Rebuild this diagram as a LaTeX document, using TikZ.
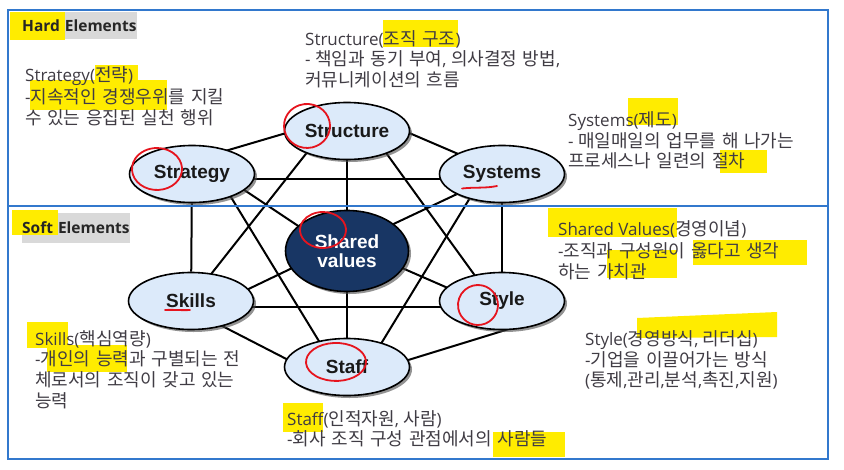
\documentclass[tikz,border=0pt]{standalone}
\usepackage{fontspec}
\setmainfont{Open Sans}
\newfontfamily\krfont{Noto Sans CJK KR}[WordSpace=1.4,Scale=1.06]
\newfontfamily\lblfont{Liberation Sans}
\usetikzlibrary{shapes.geometric,shadows,calc}
\newcommand{\kr}[1]{{\krfont #1}}
\definecolor{frameblue}{RGB}{50,120,205}
\definecolor{hlyellow}{RGB}{255,236,0}
\definecolor{tagGray}{RGB}{217,217,217}
\definecolor{nodeblue}{RGB}{220,234,250}
\definecolor{sharedblue}{RGB}{24,54,100}
\definecolor{txtgray}{RGB}{64,60,68}
\definecolor{penred}{RGB}{230,20,30}
\pgfdeclarelayer{bg}
\pgfsetlayers{bg,main}
\begin{document}
\begin{tikzpicture}[x=1pt,y=-1pt,
  frame/.style={draw=frameblue,line width=2pt},
  hl/.style={fill=hlyellow},
  tag/.style={fill=tagGray},
  desc/.style={anchor=base west,inner sep=0pt,text=txtgray,font=\fontsize{17}{21}\selectfont},
  head/.style={anchor=base west,inner sep=0pt,text=black!85,font=\bfseries\fontsize{15.5}{18}\selectfont},
  elem/.style={ellipse,draw=black,line width=1.6pt,fill=nodeblue,minimum width=125pt,minimum height=57pt,inner sep=0pt,text=black!90,font=\lblfont\bfseries\fontsize{19}{19}\selectfont,drop shadow={shadow xshift=2.5pt,shadow yshift=-2.5pt,fill=black!70,opacity=0.6}},
  core/.style={elem,fill=sharedblue,text=white,minimum width=123pt,minimum height=81pt,align=center},
  link/.style={line width=2pt,black},
  pen/.style={draw=penred,line width=1.8pt,line cap=round,line join=round}
]
\begin{pgfonlayer}{bg}
\fill[white] (0,0) rectangle (844,469);
\end{pgfonlayer}
\useasboundingbox (0,0) rectangle (844,469);

% label tags and highlights
\fill[tag] (10,12) rectangle (137,39);
\fill[hl] (10,12) rectangle (65,40);
\fill[tag] (22,213) rectangle (130,243);
\fill[hl] (12,210) rectangle (58,235);
\fill[hl] (95,65) rectangle (138,82);
\fill[hl] (30,80) rectangle (167,110);
\fill[hl] (383,20) rectangle (458,47);
\fill[hl] (628,98) rectangle (678,125);
\fill[hl] (720,150) rectangle (767,173);
\fill[hl] (548,208) rectangle (677,237);
\fill[hl] (607,250) rectangle (677,278);
\fill[hl] (693,240) rectangle (807,265);
\fill[hl] (27,322) rectangle (68,348);
\fill[hl] (47,345) rectangle (127,372);
\fill[hl] (283,403) rectangle (323,432);
\fill[hl] (493,432) rectangle (565,457);
\fill[hl] (637,318) -- (777,312) -- (777,337) -- (637,338) -- cycle;

% frames
\draw[frame] (8,10) rectangle (828,459);
\draw[frame] (8,206) -- (828,206);

% headings
\node[head] (hardlbl) at (22,31) {Hard\hspace{5pt}Elements};
\node[head] (softlbl) at (22,233) {Soft\hspace{5pt}Elements};

% descriptions
\node[desc] (strat1) at (25,81.5) {Strategy(\kr{전략})};
\node[desc] (strat2) at (25,103) {-\kr{지속적인 경쟁우위를 지킬}};
\node[desc] (strat3) at (25,124.5) {\kr{수 있는 응집된 실천 행위}};

\node[desc] (struc1) at (305,45) {Structure(\kr{조직 구조})};
\node[desc] (struc2) at (305,65.5) {- \kr{책임과 동기 부여}, \kr{의사결정 방법},};
\node[desc] (struc3) at (305,86) {\kr{커뮤니케이션의 흐름}};

\node[desc] (sys1) at (568,126.5) {Systems(\kr{제도})};
\node[desc] (sys2) at (568,147) {- \kr{매일매일의 업무를 해 나가는}};
\node[desc] (sys3) at (568,167.5) {\kr{프로세스나 일련의 절차}};

\node[desc] (sv1) at (558,235) {Shared Values(\kr{경영이념})};
\node[desc] (sv2) at (558,257) {-\kr{조직과 구성원이 옳다고 생각}};
\node[desc] (sv3) at (558,278.5) {\kr{하는 가치관}};

\node[desc] (sk1) at (35,345) {Skills(\kr{핵심역량})};
\node[desc] (sk2) at (35,365.5) {-\kr{개인의 능력과 구별되는 전}};
\node[desc] (sk3) at (35,386.5) {\kr{체로서의 조직이 갖고 있는}};
\node[desc] (sk4) at (35,407.5) {\kr{능력}};

\node[desc] (st1) at (287,425) {Staff(\kr{인적자원}, \kr{사람})};
\node[desc] (st2) at (287,445.5) {-\kr{회사 조직 구성 관점에서의 사람들}};

\node[desc] (sy1) at (585,345.5) {Style(\kr{경영방식}, \kr{리더십})};
\node[desc] (sy2) at (585,366) {-\kr{기업을 이끌어가는 방식}};
\node[desc] (sy3) at (585,386.5) {(\kr{통제},\kr{관리},\kr{분석},\kr{촉진},\kr{지원})};

% the seven elements
\node[elem] (structure) at (347,131) {Structure};
\node[elem] (strategy) at (192,174) {Strategy};
\node[elem] (systems) at (502,174) {Systems};
\node[core] (shared) at (347,251) {Shared\\values};
\node[elem] (skills) at (191,301) {Skills};
\node[elem] (style) at (502,301) {Style};
\node[elem] (staff) at (347,367) {Staff};

% connectors
\begin{pgfonlayer}{bg}
\draw[link] ($(strategy)+(23,-20)$) -- ($(structure)+(-37,-5)$);
\draw[link] ($(structure)+(38,-8.4)$) -- ($(systems)+(-22,-10.7)$);
\draw[link] ($(strategy)+(0,5)$) -- ($(systems)+(0,5)$);
\draw[link] (structure) -- (shared);
\draw[link] ($(strategy)+(33,3.2)$) -- ($(shared)+(-27,-10.5)$);
\draw[link] ($(systems)+(-22,9.2)$) -- ($(shared)+(23,-15.9)$);
\draw[link] (strategy) -- (skills);
\draw[link] (systems) -- (style);
\draw[link] ($(structure)+(-26.2,4)$) -- ($(skills)+(3.6,-6)$);
\draw[link] ($(structure)+(26.1,4)$) -- ($(style)+(-13,-6)$);
\draw[link] ($(strategy)+(28.5,6)$) -- ($(staff)+(-16.5,-7)$);
\draw[link] ($(systems)+(-21.1,6)$) -- ($(staff)+(24.1,-7)$);
\draw[link] ($(skills)+(34,-0.7)$) -- ($(shared)+(-27,3.7)$);
\draw[link] ($(shared)+(28,5.2)$) -- ($(style)+(-22,1)$);
\draw[link] (shared) -- (staff);
\draw[link] ($(skills)+(0,6)$) -- ($(style)+(0,6)$);
\draw[link] ($(skills)+(19,18.7)$) -- ($(staff)+(-27,9.3)$);
\draw[link] ($(staff)+(33,1.7)$) -- ($(style)+(18,24.6)$);
\end{pgfonlayer}

% red pen marks
\draw[pen] (169.5,150.8) arc[start angle=-60,end angle=320,x radius=25,y radius=21];
\draw[pen] (311,104.3) arc[start angle=-80,end angle=300,x radius=23,y radius=22];
\draw[pen] (334.5,214.4) arc[start angle=-60,end angle=320,x radius=23,y radius=18];
\draw[pen] (474.5,285.3) arc[start angle=-100,end angle=280,x radius=20,y radius=20];
\draw[pen] (351,345.5) arc[start angle=-60,end angle=330,x radius=30,y radius=19];
\draw[pen] (462,188.5) .. controls (475,187) and (485,188.5) .. (497,186);
\draw[pen] (165,310) .. controls (173,309.5) and (182,310.5) .. (190,310);
\end{tikzpicture}
\end{document}
